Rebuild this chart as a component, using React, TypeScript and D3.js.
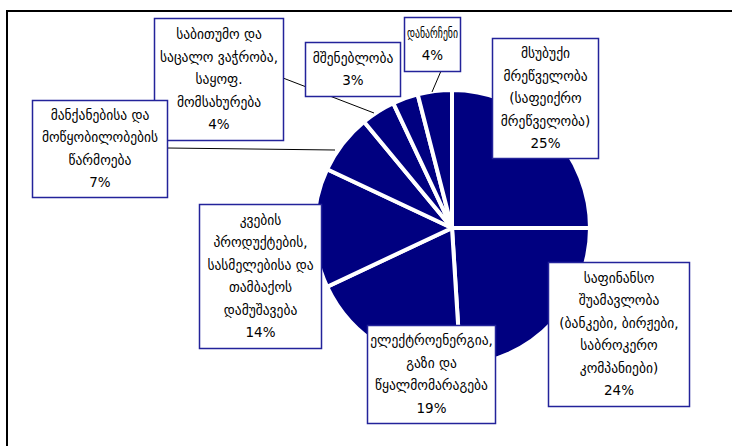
import React from "react";
import * as d3 from "d3";

// Data
const categories: string[][] = [
  ["მსუბუქი", "მრეწველობა", "(საფეიქრო", "მრეწველობა)"],
  ["საფინანსო", "შუამავლობა", "(ბანკები, ბირჟები,", "საბროკერო", "კომპანიები)"],
  ["ელექტროენერგია,", "გაზი და", "წყალმომარაგება"],
  ["კვების", "პროდუქტების,", "სასმელებისა და", "თამბაქოს", "დამუშავება"],
  ["მანქანებისა და", "მოწყობილობების", "წარმოება"],
  ["საბითუმო და", "საცალო ვაჭრობა,", "საყოფ.", "მომსახურება"],
  ["მშენებლობა"],
  ["დანარჩენი"],
];
const values: number[] = [25, 24, 19, 14, 7, 4, 3, 4];

// Layout (label boxes: x, y, w, h) and leader lines
const boxes = [
  { x: 492, y: 38, w: 106, h: 120 },
  { x: 548, y: 262, w: 141, h: 144 },
  { x: 367, y: 325, w: 128, h: 98 },
  { x: 199, y: 204, w: 122, h: 144 },
  { x: 32, y: 100, w: 135, h: 97 },
  { x: 154, y: 18, w: 129, h: 122 },
  { x: 305, y: 42, w: 95, h: 54 },
  { x: 404, y: 17, w: 56, h: 54 },
];
const leaders: ([number, number][] | null)[] = [
  null, null, null, null,
  [[167, 148], [335, 150]],
  [[283, 78], [374, 113]],
  null,
  [[441, 71], [432, 92]],
];
const drawOrder = [0, 1, 2, 3, 5, 4, 6, 7];

const W = 732, H = 446;
const cx = 452, cy = 228, R = 138;
const LH = 22.5;
const FS = 13.5;

function FitText({ x, y, maxW, children }: { x: number; y: number; maxW: number; children: string }) {
  const ref = React.useRef<SVGTextElement>(null);
  React.useLayoutEffect(() => {
    const el = ref.current;
    if (!el) return;
    el.removeAttribute("textLength");
    el.removeAttribute("lengthAdjust");
    const w = el.getComputedTextLength();
    if (w > maxW) {
      el.setAttribute("textLength", String(maxW));
      el.setAttribute("lengthAdjust", "spacingAndGlyphs");
    }
  }, [children, maxW]);
  return (
    <text ref={ref} x={x} y={y} textAnchor="middle" dominantBaseline="central" fontSize={FS} fill="#000">
      {children}
    </text>
  );
}

export default function App() {
  const pie = d3.pie<number>().sort(null).value((d) => d)(values);
  const arc = d3.arc<d3.PieArcDatum<number>>().innerRadius(0).outerRadius(R);
  const line = d3.line();
  return (
    <svg width={W} height={H} style={{ position: "absolute", left: 0, top: 0, background: "#fff" }}
      fontFamily="'DejaVu Sans', sans-serif">
      <rect x={0} y={0} width={W} height={H} fill="#fff" />
      <path d={`M7,${H + 5} V11 H${W + 5}`} fill="none" stroke="#000" strokeWidth={2} />
      <g transform={`translate(${cx},${cy})`}>
        {pie.map((p, i) => (
          <path key={i} d={arc(p) || ""} fill="#000080" stroke="#fff" strokeWidth={4} strokeLinejoin="miter" />
        ))}
      </g>
      {leaders.map((l, i) => l ? <path key={"l" + i} d={line(l) || ""} fill="none" stroke="#000" strokeWidth={1} /> : null)}
      {drawOrder.map((i) => {
        const b = boxes[i];
        const lines = [...categories[i], `${values[i]}%`];
        const top = b.y + b.h / 2 - (lines.length * LH) / 2 + LH / 2;
        return (
          <g key={"b" + i}>
            <rect x={b.x + 0.5} y={b.y + 0.5} width={b.w} height={b.h} fill="#fff" stroke="#23239a" strokeWidth={1.5} />
            {lines.map((t, j) => (
              <FitText key={j} x={b.x + b.w / 2 + 0.5} y={top + j * LH} maxW={b.w - 5}>{t}</FitText>
            ))}
          </g>
        );
      })}
    </svg>
  );
}
